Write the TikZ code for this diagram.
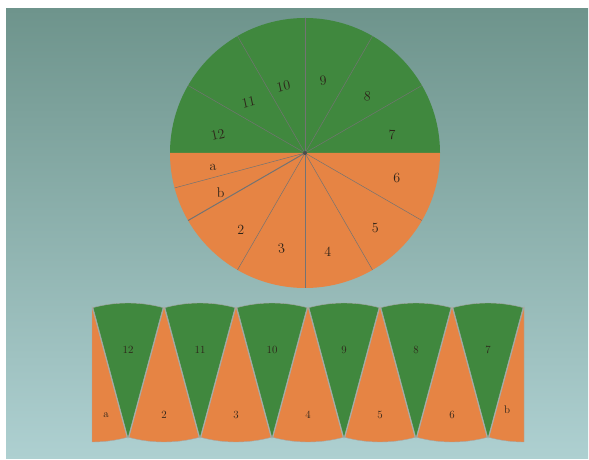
\documentclass[tikz,border=0pt]{standalone}
\usetikzlibrary{calc}
\definecolor{bgtop}{RGB}{110,148,140}
\definecolor{bgmid}{RGB}{150,188,184}
\definecolor{bgbot}{RGB}{174,208,209}
\definecolor{leaf}{RGB}{64,136,62}
\definecolor{carrot}{RGB}{230,132,68}
\definecolor{ink}{RGB}{45,35,25}
\tikzset{
  sec/.style={line width=.4pt,draw=black!35},
  gsec/.style={sec,fill=leaf},
  osec/.style={sec,fill=carrot},
  ray/.style={line width=.5pt,draw=black!55},
  numbig/.style={text=ink,font=\fontsize{14}{14}\selectfont,inner sep=1pt},
  numsmall/.style={text=ink,font=\fontsize{11}{11}\selectfont,inner sep=1pt}
}
\begin{document}
\begin{tikzpicture}[x=1pt,y=1pt]
\useasboundingbox (0,0) rectangle (589,460);
\fill[white] (0,0) rectangle (589,460);
\shade[top color=bgtop,middle color=bgmid,bottom color=bgbot] (6,1) rectangle (588,451);

\coordinate (O) at (305,307);
\fill[leaf] (O) -- ++(0:135pt) arc (0:180:135pt) -- cycle;
\fill[carrot] (O) -- ++(180:135pt) arc (180:360:135pt) -- cycle;
\foreach \a in {30,60,90,120,150,195,240,270,300,330}
  \draw[ray] (O) -- ++(\a:135pt);
\draw[ray,line width=1pt] (O) -- ++(210:135pt);
\fill[black!70] (O) circle (2pt);

\foreach \a/\r/\t/\w in {168/89/12/12,138/76/11/12,108/70/10/12,76/75/9/5,42/84/8/-5,12/89/7/0,
  189/93/a/0,205/93/b/0,230/100/2/0,256/98/3/8,283/101/4/0,313/103/5/0,345/95/6/0}
  \path (O) ++(\a:\r pt) node[numbig,rotate=\w] (c\t) {\t};

\foreach \k/\t in {0/12,1/11,2/10,3/9,4/8,5/7}{
  \coordinate (g\k) at (128+72*\k,22);
  \filldraw[gsec] (g\k) -- ++(75:135pt) arc (75:105:135pt) -- cycle;
  \node[numsmall] (s\t) at ($(g\k)+(0,88)$) {\t};
}
\foreach \k/\t in {0/2,1/3,2/4,3/5,4/6}{
  \coordinate (o\k) at (164+72*\k,153);
  \filldraw[osec] (o\k) -- ++(255:135pt) arc (255:285:135pt) -- cycle;
  \node[numsmall] (s\t) at ($(o\k)+(0,-108)$) {\t};
}
\coordinate (oa) at (92,153);
\coordinate (ob) at (524,153);
\filldraw[osec] (oa) -- ++(270:135pt) arc (270:285:135pt) -- cycle;
\filldraw[osec] (ob) -- ++(255:135pt) arc (255:270:135pt) -- cycle;
\node[numsmall] (sa) at ($(oa)+(14,-108)$) {a};
\node[numsmall] (sb) at ($(ob)+(-17,-103)$) {b};
\end{tikzpicture}
\end{document}
